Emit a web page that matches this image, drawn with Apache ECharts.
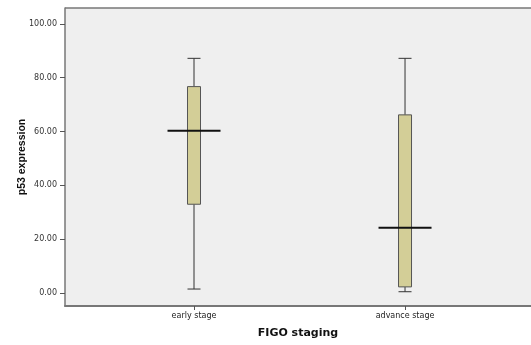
<!DOCTYPE html>
<html><head><meta charset="utf-8">
<script src="https://cdn.jsdelivr.net/npm/echarts@6/dist/echarts.min.js"></script>
<style>html,body{margin:0;padding:0;background:#fff}#c{width:531px;height:345px}</style>
</head><body><div id="c"></div>
<script>
const categories = ['early stage', 'advance stage'];
const whiskerLow = [1.5, 0.5];
const q1 = [33.0, 2.3];
const median = [60.3, 24.3];
const q3 = [76.7, 66.2];
const whiskerHigh = [87.2, 87.2];
const yTicks = [0, 20, 40, 60, 80, 100];

const data = categories.map((c, i) => [i + 1, whiskerLow[i], q1[i], median[i], q3[i], whiskerHigh[i]]);

const chart = echarts.init(document.getElementById('c'), null, {renderer: 'canvas'});
chart.setOption({
  animation: false,
  backgroundColor: '#ffffff',
  grid: {left: 65, top: 8, right: 0, bottom: 39, show: true, backgroundColor: '#efefef', borderWidth: 0},
  xAxis: {
    type: 'value', min: 0.3886, max: 2.597,
    name: 'FIGO staging', nameLocation: 'middle', nameGap: 22, nameMoveOverlap: false,
    nameTextStyle: {fontFamily: 'DejaVu Sans', fontWeight: 'bold', fontSize: 11, color: '#111'},
    axisLine: {show: true, onZero: false, lineStyle: {color: '#777', width: 2}},
    axisTick: {show: true, customValues: [1, 2], length: 4, lineStyle: {color: '#555'}},
    axisLabel: {customValues: [1, 2], formatter: v => categories[Math.round(v) - 1] || '', fontFamily: 'DejaVu Sans', fontSize: 8, color: '#222', margin: 6},
    splitLine: {show: false}
  },
  yAxis: {
    type: 'value', min: -4.8, max: 105.9,
    name: 'p53 expression', nameLocation: 'middle', nameGap: 37, nameRotate: 90, nameMoveOverlap: false,
    nameTextStyle: {fontFamily: 'Liberation Sans', fontWeight: 'bold', fontSize: 10.5, color: '#111'},
    axisLine: {show: true, onZero: false, lineStyle: {color: '#777', width: 1.5}},
    axisTick: {show: true, customValues: yTicks, length: 5, lineStyle: {color: '#555'}},
    axisLabel: {customValues: yTicks, formatter: v => v.toFixed(2), fontFamily: 'DejaVu Sans', fontSize: 8, color: '#333', margin: 8},
    splitLine: {show: false}
  },
  graphic: [{type: 'line', shape: {x1: 65, y1: 8, x2: 531, y2: 8}, style: {stroke: '#777', lineWidth: 1.5}, z: 10}],
  series: [{
    type: 'custom',
    data: data,
    renderItem: function (params, api) {
      const x = api.value(0);
      const pLow = api.coord([x, api.value(1)]);
      const pQ1 = api.coord([x, api.value(2)]);
      const pMed = api.coord([x, api.value(3)]);
      const pQ3 = api.coord([x, api.value(4)]);
      const pHigh = api.coord([x, api.value(5)]);
      const bw = 13, mw = 53, cw = 13;
      const cx = pMed[0];
      const stroke = {stroke: '#333', lineWidth: 1};
      return {type: 'group', children: [
        {type: 'line', shape: {x1: cx, y1: pHigh[1], x2: cx, y2: pQ3[1]}, style: stroke},
        {type: 'line', shape: {x1: cx, y1: pQ1[1], x2: cx, y2: pLow[1]}, style: stroke},
        {type: 'line', shape: {x1: cx - cw / 2, y1: pHigh[1], x2: cx + cw / 2, y2: pHigh[1]}, style: stroke},
        {type: 'line', shape: {x1: cx - cw / 2, y1: pLow[1], x2: cx + cw / 2, y2: pLow[1]}, style: stroke},
        {type: 'rect', shape: {x: cx - bw / 2, y: pQ3[1], width: bw, height: pQ1[1] - pQ3[1]}, style: {fill: '#d3ce97', stroke: '#555', lineWidth: 1}},
        {type: 'line', shape: {x1: cx - mw / 2, y1: pMed[1], x2: cx + mw / 2, y2: pMed[1]}, style: {stroke: '#111', lineWidth: 2}}
      ]};
    }
  }]
});
</script></body></html>
